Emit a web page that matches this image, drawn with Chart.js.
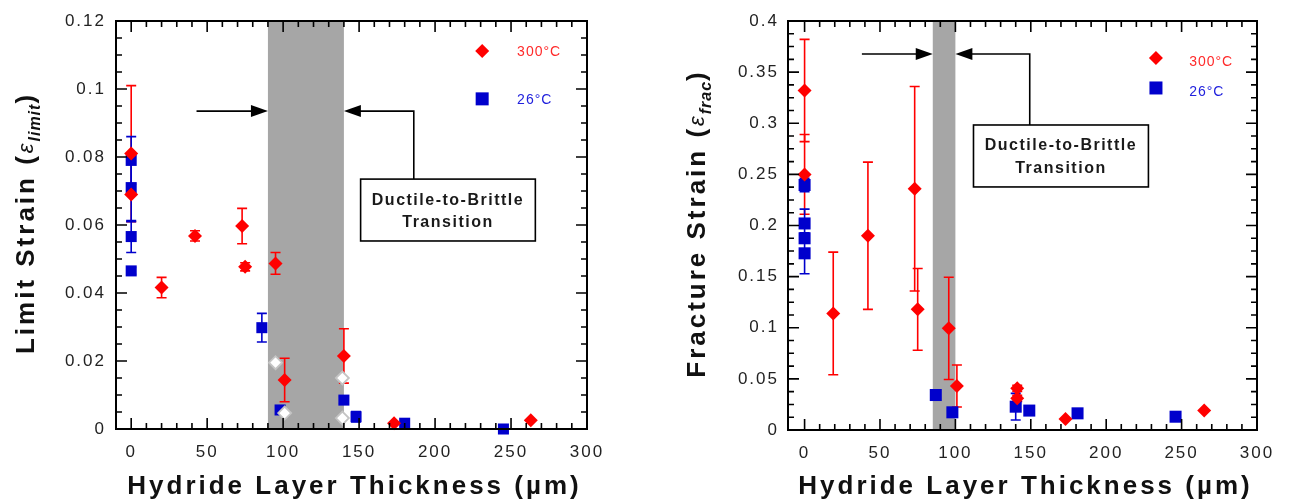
<!DOCTYPE html>
<html>
<head>
<meta charset="utf-8">
<script src="https://cdn.jsdelivr.net/npm/chart.js@4.4.0/dist/chart.umd.min.js"></script>
<style>
  body { margin: 0; background: #fff; }
  canvas { position: absolute; top: 0; }
  #limitChart { left: 0; }
  #fracChart { left: 645px; }
</style>
</head>
<body>
<canvas id="limitChart" width="640" height="504"></canvas>
<canvas id="fracChart" width="644" height="504"></canvas>
<script>
// ---- data ----
const xTickVals = [0, 50, 100, 150, 200, 250, 300];

// Limit strain (left)
const limitYTicks = [0, 0.02, 0.04, 0.06, 0.08, 0.1, 0.12];
const limitRedX   = [0, 0, 20, 42, 73, 75, 95, 101, 140, 173, 263];
const limitRedY   = [0.081, 0.069, 0.0416, 0.0568, 0.0597, 0.0477, 0.0487, 0.0144, 0.0215, 0.0017, 0.0026];
const limitRedErr = [0.020, 0, 0.003, 0.0015, 0.0052, 0.0012, 0.0032, 0.0064, 0.008, 0, 0];
const limitBlueX   = [0, 0, 0, 0, 86, 98, 140, 148, 180, 245];
const limitBlueY   = [0.079, 0.071, 0.0566, 0.0465, 0.0298, 0.0056, 0.0085, 0.0036, 0.0017, 0];
const limitBlueErr = [0.007, 0.010, 0.0047, 0.001, 0.0042, 0.001, 0.001, 0.0015, 0, 0];
const limitOpenX = [95, 101, 139, 139];
const limitOpenY = [0.0195, 0.0047, 0.015, 0.0032];
const limitBand = [90, 140];

// Fracture strain (right)
const fracYTicks = [0, 0.05, 0.1, 0.15, 0.2, 0.25, 0.3, 0.35, 0.4];
const fracRedX   = [0, 0, 19, 42, 73, 75, 95.6, 101, 141, 141, 173, 265];
const fracRedY   = [0.332, 0.25, 0.114, 0.19, 0.236, 0.118, 0.0994, 0.043, 0.0408, 0.031, 0.0108, 0.019];
const fracRedErr = [0.05, 0.039, 0.06, 0.072, 0.1, 0.04, 0.05, 0.0205, 0.003, 0.003, 0, 0];
const fracBlueX   = [0, 0, 0, 0, 87, 98, 140, 149, 181, 246];
const fracBlueY   = [0.2396, 0.202, 0.1875, 0.1728, 0.0342, 0.0173, 0.0228, 0.019, 0.0163, 0.013];
const fracBlueErr = [0.0065, 0.014, 0, 0.02, 0, 0, 0.013, 0, 0, 0];
const fracBand = [85, 100];

const FONT = '"Liberation Sans", Arial, Helvetica, sans-serif';
const RED = '#ff0000';
const BLUE = '#0000cc';

function pts(xs, ys) {
  return xs.map((x, i) => ({ x: x, y: ys[i] }));
}

function drawBand(chart, band) {
  const { ctx, chartArea: a, scales: { x } } = chart;
  ctx.save();
  ctx.fillStyle = '#a6a6a6';
  const l = x.getPixelForValue(band[0]), r = x.getPixelForValue(band[1]);
  ctx.fillRect(l, a.top, r - l, a.bottom - a.top);
  ctx.restore();
}

function drawErrors(chart) {
  const { ctx, scales: { x, y } } = chart;
  ctx.save();
  ctx.lineWidth = 1.6;
  chart.data.datasets.forEach(ds => {
    if (!ds.errors) return;
    ctx.strokeStyle = ds.backgroundColor;
    ds.data.forEach((p, i) => {
      const e = ds.errors[i];
      if (!e) return;
      const px = x.getPixelForValue(p.x);
      const top = y.getPixelForValue(p.y + e), bot = y.getPixelForValue(p.y - e);
      ctx.beginPath();
      ctx.moveTo(px, top); ctx.lineTo(px, bot);
      ctx.moveTo(px - 5, top); ctx.lineTo(px + 5, top);
      ctx.moveTo(px - 5, bot); ctx.lineTo(px + 5, bot);
      ctx.stroke();
    });
  });
  ctx.restore();
}

function drawFrame(chart, o) {
  const { ctx, chartArea: a, scales: { x, y } } = chart;
  ctx.save();
  ctx.strokeStyle = '#000';
  ctx.lineWidth = 1.6;
  ctx.beginPath();
  for (let v = 0; v <= 300; v += 10) {
    const px = x.getPixelForValue(v), len = v % 50 === 0 ? 11 : 6;
    ctx.moveTo(px, a.bottom); ctx.lineTo(px, a.bottom - len);
    ctx.moveTo(px, a.top); ctx.lineTo(px, a.top + len);
  }
  for (let k = 0; k * o.yMinor <= y.max + 1e-9; k++) {
    const py = y.getPixelForValue(k * o.yMinor), len = k % o.yPer === 0 ? 11 : 6;
    ctx.moveTo(a.left, py); ctx.lineTo(a.left + len, py);
    ctx.moveTo(a.right, py); ctx.lineTo(a.right - len, py);
  }
  ctx.stroke();
  ctx.lineWidth = 2;
  ctx.strokeRect(a.left, a.top, a.right - a.left, a.bottom - a.top);
  ctx.restore();
}

function arrowHead(ctx, x, y, dir) {
  ctx.beginPath();
  ctx.moveTo(x, y);
  ctx.lineTo(x - dir * 17, y - 6);
  ctx.lineTo(x - dir * 17, y + 6);
  ctx.closePath();
  ctx.fill();
}

function drawNote(chart, o) {
  const { ctx, scales: { x, y } } = chart;
  const X = v => x.getPixelForValue(v), Y = v => y.getPixelForValue(v);
  const ay = Y(o.arrowY);
  ctx.save();
  ctx.strokeStyle = '#000';
  ctx.fillStyle = '#000';
  ctx.lineWidth = 1.6;
  ctx.beginPath();
  ctx.moveTo(X(o.arrowFrom), ay); ctx.lineTo(X(o.band[0]) - 4, ay);
  ctx.moveTo(X(o.elbowX), Y(o.box[2])); ctx.lineTo(X(o.elbowX), ay); ctx.lineTo(X(o.band[1]) + 4, ay);
  ctx.stroke();
  arrowHead(ctx, X(o.band[0]), ay, 1);
  arrowHead(ctx, X(o.band[1]), ay, -1);
  const bl = X(o.box[0]), br = X(o.box[1]), bt = Y(o.box[2]), bb = Y(o.box[3]);
  ctx.fillStyle = '#fff';
  ctx.fillRect(bl, bt, br - bl, bb - bt);
  ctx.strokeRect(bl, bt, br - bl, bb - bt);
  ctx.fillStyle = '#1a1a1a';
  ctx.font = 'bold 16px ' + FONT;
  ctx.letterSpacing = '1.5px';
  ctx.textAlign = 'center';
  ctx.textBaseline = 'middle';
  const cx = (bl + br) / 2;
  ctx.fillText('Ductile-to-Brittle', cx, bt + (bb - bt) * 0.34);
  ctx.fillText('Transition', cx, bt + (bb - bt) * 0.7);
  ctx.restore();
}

function drawKey(chart, o) {
  const { ctx, scales: { x, y } } = chart;
  const X = v => x.getPixelForValue(v), Y = v => y.getPixelForValue(v);
  ctx.save();
  // diamond
  let px = X(o.markX), py = Y(o.redY);
  ctx.fillStyle = RED;
  ctx.beginPath();
  ctx.moveTo(px - 7, py); ctx.lineTo(px, py - 7); ctx.lineTo(px + 7, py); ctx.lineTo(px, py + 7);
  ctx.closePath(); ctx.fill();
  // square
  py = Y(o.blueY);
  ctx.fillStyle = BLUE;
  ctx.fillRect(px - 6.5, py - 6.5, 13, 13);
  ctx.font = '14px ' + FONT;
  ctx.letterSpacing = '1px';
  ctx.textBaseline = 'middle';
  ctx.fillStyle = '#ff2a2a';
  ctx.fillText('300°C', X(o.textX), Y(o.redY) + o.textDy);
  ctx.fillStyle = '#2222dd';
  ctx.fillText('26°C', X(o.textX), Y(o.blueY) + o.textDy);
  ctx.restore();
}

function drawTitles(chart, o) {
  const { ctx, chartArea: a } = chart;
  ctx.save();
  ctx.fillStyle = '#111';
  ctx.textBaseline = 'middle';
  // x title
  ctx.font = 'bold 26px ' + FONT;
  ctx.letterSpacing = '3px';
  ctx.textAlign = 'center';
  ctx.fillText('Hydride Layer Thickness (\u00b5m)', (a.left + a.right) / 2 + 3, 487);
  // y title with subscript
  const parts = [
    { t: o.yMain + ' (', f: 'bold 26px ' + FONT, s: '3px', dy: 0 },
    { t: '\u03b5', f: 'italic 22px ' + FONT, s: '2px', dy: 0 },
    { t: o.ySub, f: 'bold italic 16px ' + FONT, s: '1px', dy: 9 },
    { t: ')', f: 'bold 26px ' + FONT, s: '3px', dy: 0 }
  ];
  let w = 0;
  parts.forEach(p => { ctx.font = p.f; ctx.letterSpacing = p.s; p.w = ctx.measureText(p.t).width; w += p.w; });
  ctx.translate(o.yTitleX, (a.top + a.bottom) / 2 - 2);
  ctx.rotate(-Math.PI / 2);
  ctx.textAlign = 'left';
  let xx = -w / 2;
  parts.forEach(p => { ctx.font = p.f; ctx.letterSpacing = p.s; ctx.fillText(p.t, xx, p.dy); xx += p.w; });
  ctx.restore();
}

const decor = {
  id: 'decor',
  beforeDraw(chart) { chart.ctx.letterSpacing = '2px'; },
  beforeDatasetsDraw(chart, args, o) {
    drawBand(chart, o.band);
    drawErrors(chart);
  },
  afterDatasetsDraw(chart, args, o) {
    drawFrame(chart, o);
    drawNote(chart, o);
    drawKey(chart, o);
    drawTitles(chart, o);
    chart.ctx.letterSpacing = '0px';
  }
};

function makeChart(id, cfg) {
  const datasets = [
    { label: '300°C', data: pts(cfg.redX, cfg.redY), errors: cfg.redErr, pointStyle: 'rectRot',
      pointRadius: 7, backgroundColor: RED, borderWidth: 0, clip: false },
    { label: '26°C', data: pts(cfg.blueX, cfg.blueY), errors: cfg.blueErr, pointStyle: 'rect',
      pointRadius: cfg.sq, backgroundColor: BLUE, borderWidth: 0, clip: false }
  ];
  if (cfg.openX) {
    datasets.unshift({ label: 'open', data: pts(cfg.openX, cfg.openY), pointStyle: 'rectRot',
      pointRadius: 6.5, backgroundColor: '#ffffff', borderColor: '#c4c4c4', borderWidth: 1.8 });
  }
  return new Chart(document.getElementById(id), {
    type: 'scatter',
    data: { datasets: datasets },
    plugins: [decor],
    options: {
      responsive: false,
      animation: false,
      devicePixelRatio: 1,
      layout: { padding: { left: 0, right: cfg.padRight, top: 21, bottom: 0 } },
      plugins: {
        legend: { display: false },
        tooltip: { enabled: false },
        decor: cfg.decor
      },
      scales: {
        x: {
          type: 'linear', min: cfg.xMin, max: 300,
          grid: { display: false, drawTicks: false },
          border: { display: false },
          afterBuildTicks: s => { s.ticks = xTickVals.map(v => ({ value: v })); },
          afterFit: s => { s.height = cfg.xHeight; },
          ticks: { font: { family: FONT, size: 17 }, color: '#222', padding: 13,
                   maxRotation: 0, autoSkip: false }
        },
        y: {
          type: 'linear', min: 0, max: cfg.yTicks[cfg.yTicks.length - 1],
          grid: { display: false, drawTicks: false },
          border: { display: false },
          afterBuildTicks: s => { s.ticks = cfg.yTicks.map(v => ({ value: v })); },
          afterFit: s => { s.width = cfg.yWidth; },
          ticks: { font: { family: FONT, size: 17 }, color: '#222', padding: cfg.yPad,
                   autoSkip: false, callback: v => String(Math.round(v * 1000) / 1000) }
        }
      }
    }
  });
}

makeChart('limitChart', {
  redX: limitRedX, redY: limitRedY, redErr: limitRedErr,
  blueX: limitBlueX, blueY: limitBlueY, blueErr: limitBlueErr,
  openX: limitOpenX, openY: limitOpenY, sq: 7.8,
  yTicks: limitYTicks, xMin: -10, padRight: 53, xHeight: 75, yWidth: 116, yPad: 10,
  decor: {
    band: limitBand, yMinor: 0.005, yPer: 4,
    arrowY: 0.0935, arrowFrom: 43, elbowX: 186, box: [151, 266, 0.0735, 0.0553],
    markX: 231, textX: 254, redY: 0.1112, blueY: 0.0971, textDy: 1,
    yMain: 'Limit Strain', ySub: 'limit', yTitleX: 27
  }
});

makeChart('fracChart', {
  redX: fracRedX, redY: fracRedY, redErr: fracRedErr,
  blueX: fracBlueX, blueY: fracBlueY, blueErr: fracBlueErr, sq: 8.5,
  yTicks: fracYTicks, xMin: -11, padRight: 32, xHeight: 74, yWidth: 143, yPad: 9,
  decor: {
    band: fracBand, yMinor: 0.0125, yPer: 4,
    arrowY: 0.3677, arrowFrom: 38, elbowX: 149.3, box: [112, 228, 0.2983, 0.2377],
    markX: 233, textX: 255, redY: 0.3638, blueY: 0.3345, textDy: 4,
    yMain: 'Fracture Strain', ySub: 'frac', yTitleX: 53
  }
});
</script>
</body>
</html>
